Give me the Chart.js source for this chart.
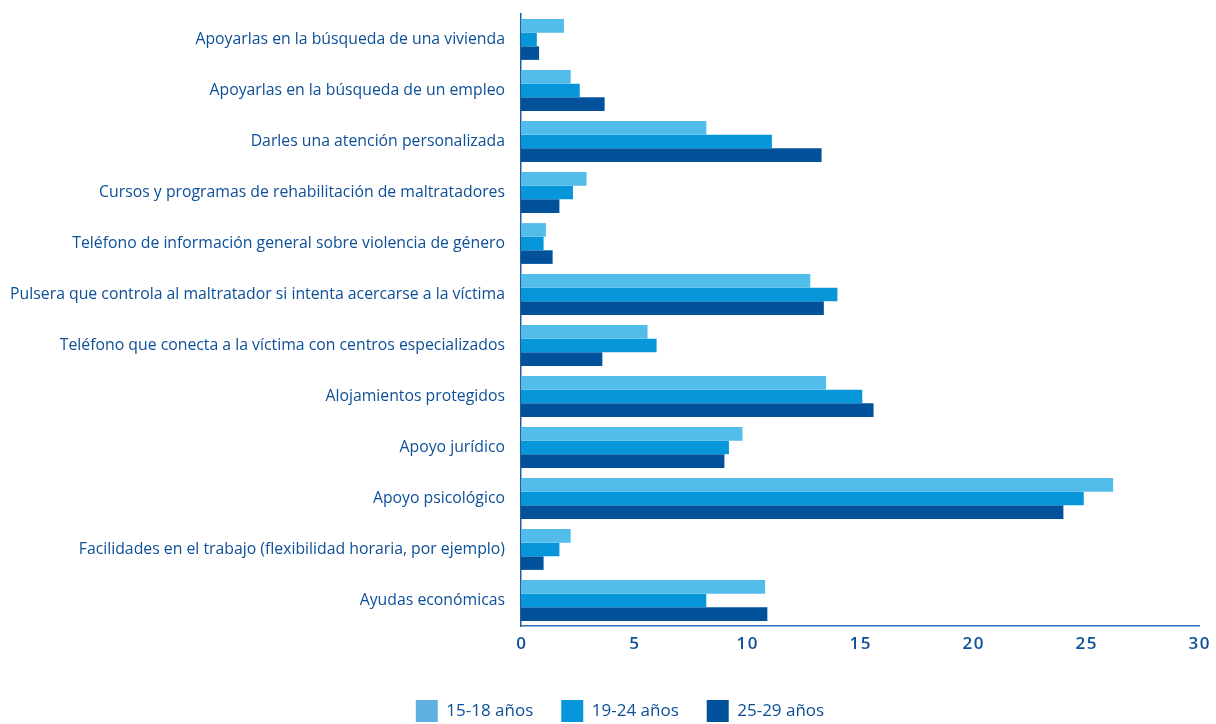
<!DOCTYPE html>
<html>
<head>
<meta charset="utf-8">
<script src="https://cdn.jsdelivr.net/npm/chart.js@4"></script>
<style>
html,body{margin:0;padding:0;background:#fff;}
#wrap{width:1216px;height:724px;position:relative;}
</style>
</head>
<body>
<div id="wrap"><canvas id="c" width="1216" height="724"></canvas></div>
<script>
const categories = [
  "Apoyarlas en la búsqueda de una vivienda",
  "Apoyarlas en la búsqueda de un empleo",
  "Darles una atención personalizada",
  "Cursos y programas de rehabilitación de maltratadores",
  "Teléfono de información general sobre violencia de género",
  "Pulsera que controla al maltratador si intenta acercarse a la víctima",
  "Teléfono que conecta a la víctima con centros especializados",
  "Alojamientos protegidos",
  "Apoyo jurídico",
  "Apoyo psicológico",
  "Facilidades en el trabajo (flexibilidad horaria, por ejemplo)",
  "Ayudas económicas"
];
const seriesNames = ["15-18 años", "19-24 años", "25-29 años"];
const values1518 = [1.9, 2.2, 8.2, 2.9, 1.1, 12.8, 5.6, 13.5, 9.8, 26.2, 2.2, 10.8];
const values1924 = [0.7, 2.6, 11.1, 2.3, 1.0, 14.0, 6.0, 15.1, 9.2, 24.9, 1.7, 8.2];
const values2529 = [0.8, 3.7, 13.3, 1.7, 1.4, 13.4, 3.6, 15.6, 9.0, 24.0, 1.0, 10.9];
const xTicks = [0, 5, 10, 15, 20, 25, 30];

const colors = ["#52bcea", "#0796d9", "#01529b"];
const legendColors = ["#5fb0e0", "#0796d9", "#01529b"];
const textColor = "#0d4f98";

Chart.defaults.font.family = "'Open Sans', 'Liberation Sans', sans-serif";

const data = {
  labels: categories,
  datasets: [values1518, values1924, values2529].map((v, i) => ({
    label: seriesNames[i],
    data: v,
    backgroundColor: colors[i],
    borderWidth: 0,
    categoryPercentage: 0.8,
    barPercentage: 1.0
  }))
};

const legendShift = {
  id: 'legendShift',
  afterLayout(chart) {
    if (chart.legend) {
      chart.legend.left = 24;
      chart.legend.right = 1216;
    }
  }
};

new Chart(document.getElementById('c'), {
  type: 'bar',
  data,
  plugins: [legendShift],
  options: {
    indexAxis: 'y',
    responsive: false,
    animation: false,
    layout: { padding: { top: 14, right: 17, left: 0, bottom: -8 } },
    plugins: {
      tooltip: { enabled: false },
      legend: {
        position: 'bottom',
        labels: {
          boxWidth: 22,
          boxHeight: 22,
          padding: 28,
          color: textColor,
          font: { size: 17 },
          generateLabels(chart) {
            return chart.data.datasets.map((ds, i) => ({
              text: ds.label,
              fillStyle: legendColors[i],
              strokeStyle: legendColors[i],
              lineWidth: 0,
              fontColor: textColor,
              datasetIndex: i
            }));
          }
        }
      }
    },
    scales: {
      x: {
        min: 0, max: 30,
        afterBuildTicks(scale) { scale.ticks = xTicks.map(v => ({ value: v })); },
        afterFit(scale) { scale.height = 46; scale.paddingLeft = 0; scale.paddingRight = 0; },
        grid: { display: false, drawTicks: false },
        border: { display: true, color: "#2f6fb4", width: 1.5 },
        ticks: {
          color: textColor, font: { size: 17, weight: '600' }, padding: 8,
          callback: (v) => String(v).split('').join('\u200A')
        }
      },
      y: {
        afterFit(scale) { scale.width = 521; scale.paddingTop = 0; scale.paddingBottom = 0; },
        grid: { display: false, drawTicks: false },
        border: { display: true, color: "#1f5ea6", width: 1.5 },
        ticks: { color: textColor, font: { size: 15.8 }, padding: 16, autoSkip: false }
      }
    }
  }
});
</script>
</body>
</html>
